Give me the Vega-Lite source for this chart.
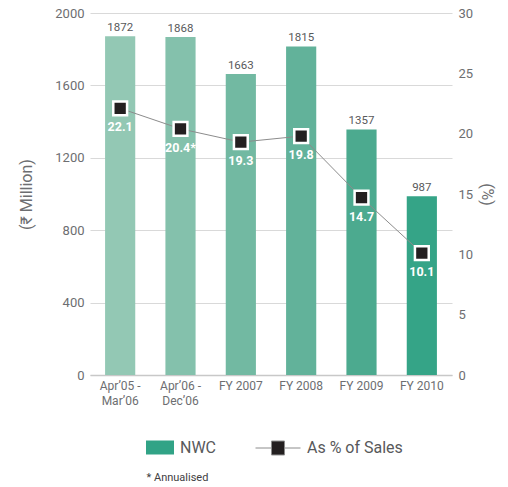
{
  "$schema": "https://vega.github.io/schema/vega-lite/v6.json",
  "width": 362,
  "height": 362,
  "autosize": {"type": "none"},
  "padding": {"left": 90, "top": 13, "right": 56, "bottom": 112},
  "config": {
    "view": {"stroke": null},
    "font": "Roboto, sans-serif",
    "legend": {
      "orient": "none",
      "direction": "horizontal",
      "symbolSize": 2025,
      "symbolOpacity": 1,
      "labelFontSize": 16,
      "labelColor": "#58595b",
      "labelOffset": 6
    }
  },
  "data": {
    "values": [
      {"period": "Apr’05 - Mar’06", "nwc": 1872, "pct": 22.1, "pct_label": "22.1"},
      {"period": "Apr’06 - Dec’06", "nwc": 1868, "pct": 20.4, "pct_label": "20.4*"},
      {"period": "FY 2007", "nwc": 1663, "pct": 19.3, "pct_label": "19.3"},
      {"period": "FY 2008", "nwc": 1815, "pct": 19.8, "pct_label": "19.8"},
      {"period": "FY 2009", "nwc": 1357, "pct": 14.7, "pct_label": "14.7"},
      {"period": "FY 2010", "nwc": 987, "pct": 10.1, "pct_label": "10.1"}
    ]
  },
  "encoding": {
    "x": {
      "field": "period",
      "type": "nominal",
      "sort": null,
      "scale": {"paddingInner": 0.5, "paddingOuter": 0.25},
      "axis": {
        "title": "* Annualised",
        "titleX": 56,
        "titleY": 96,
        "titleAlign": "left",
        "titleAnchor": "start",
        "titleBaseline": "top",
        "titleFontSize": 11,
        "titleFontWeight": "normal",
        "titleColor": "#414042",
        "labelAngle": 0,
        "labelExpr": "split(replace(datum.label, ' - ', ' -|'), '|')",
        "labelFontSize": 12,
        "labelColor": "#6d6e71",
        "labelLineHeight": 15,
        "labelPadding": 5,
        "ticks": false,
        "domain": true,
        "domainColor": "#c8c8c8",
        "domainWidth": 1.5,
        "grid": false
      }
    }
  },
  "layer": [
    {
      "encoding": {
        "y": {
          "field": "nwc",
          "type": "quantitative",
          "scale": {"domain": [0, 2000], "nice": false},
          "axis": {
            "orient": "left",
            "values": [0, 400, 800, 1200, 1600, 2000],
            "format": "d",
            "grid": true,
            "gridColor": "#d9d9d9",
            "gridWidth": 1.2,
            "domain": false,
            "ticks": false,
            "labelFontSize": 13,
            "labelColor": "#6d6e71",
            "labelPadding": 6,
            "title": "(₹ Million)",
            "titleFontSize": 16,
            "titleFontWeight": "normal",
            "titleColor": "#6d6e71",
            "titlePadding": 20
          }
        }
      },
      "layer": [
        {
          "mark": {"type": "bar"},
          "encoding": {
            "fill": {
              "field": "period",
              "type": "nominal",
              "sort": null,
              "scale": {"range": ["#93c8b4", "#84c1ac", "#72b9a2", "#62b29a", "#4caa8f", "#35a487"]},
              "legend": null
            }
          }
        },
        {
          "mark": {"type": "text", "baseline": "alphabetic", "dy": -5, "fontSize": 11.5, "color": "#58595b"},
          "encoding": {"text": {"field": "nwc", "type": "quantitative"}}
        },
        {
          "mark": {"type": "point", "opacity": 0, "filled": true},
          "encoding": {
            "color": {
              "datum": "NWC",
              "scale": {"domain": ["NWC"], "range": ["#31a386"]},
              "legend": {
                "title": null,
                "legendX": 39,
                "legendY": 412,
                "symbolType": "M-0.244,-0.311H1V0.311H-0.244Z",
                "symbolStrokeWidth": 0
              }
            }
          }
        }
      ]
    },
    {
      "encoding": {
        "y": {
          "field": "pct",
          "type": "quantitative",
          "scale": {"domain": [0, 30], "nice": false},
          "axis": {
            "orient": "right",
            "values": [0, 5, 10, 15, 20, 25, 30],
            "grid": false,
            "domain": false,
            "ticks": false,
            "labelFontSize": 13,
            "labelColor": "#6d6e71",
            "labelPadding": 6,
            "title": "(%)",
            "titleFontSize": 16,
            "titleFontWeight": "normal",
            "titleColor": "#6d6e71",
            "titlePadding": 6
          }
        }
      },
      "layer": [
        {
          "mark": {"type": "line", "color": "#8c8c8c", "strokeWidth": 1}
        },
        {
          "mark": {"type": "point", "shape": "square", "filled": true, "size": 190, "color": "#231f20", "stroke": "white", "strokeWidth": 2.5, "opacity": 1}
        },
        {
          "mark": {"type": "point", "filled": true, "fill": "#231f20", "stroke": "#8c8c8c", "strokeWidth": 1, "opacity": 0},
          "encoding": {
            "shape": {
              "datum": "As % of Sales",
              "scale": {"domain": ["As % of Sales"], "range": ["M-1,0H-0.29M0.29,0H1M-0.29,-0.31H0.29V0.31H-0.29Z"]},
              "legend": {
                "title": null,
                "legendX": 165,
                "legendY": 412,
                "symbolStrokeWidth": 1
              }
            }
          }
        },
        {
          "mark": {"type": "text", "baseline": "alphabetic", "dy": 23, "fontSize": 12.5, "fontWeight": "bold", "color": "white"},
          "encoding": {"text": {"field": "pct_label", "type": "nominal"}}
        }
      ]
    }
  ],
  "resolve": {"scale": {"y": "independent"}}
}
